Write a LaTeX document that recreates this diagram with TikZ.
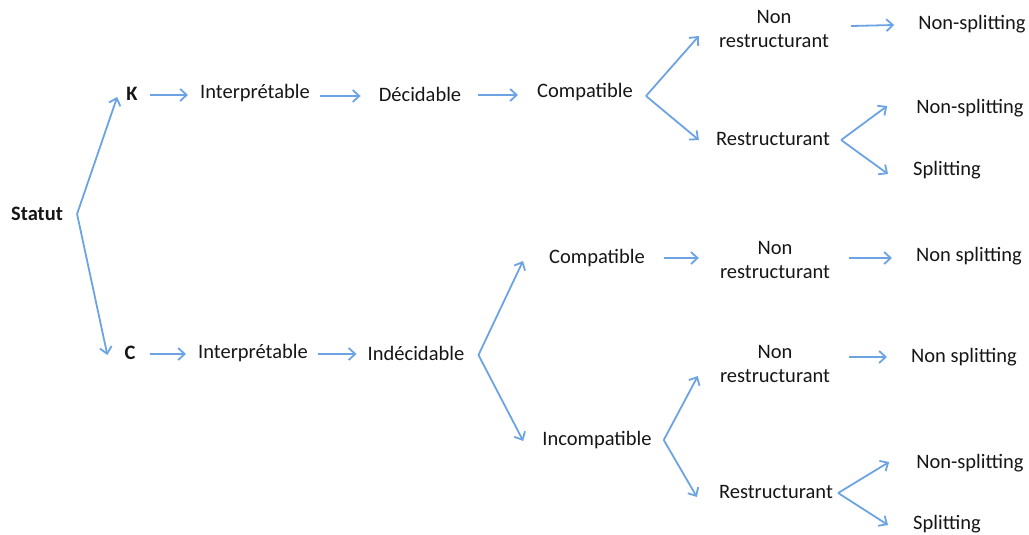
\documentclass[tikz,border=0pt]{standalone}
\usepackage{fontspec}
\setmainfont{Carlito}
\usetikzlibrary{arrows.meta,positioning}
\definecolor{TreeArrow}{HTML}{6CA3E3}
\definecolor{TreeText}{HTML}{161616}

\begin{document}
\begin{tikzpicture}[x=1pt,y=-1pt,
    lbl/.style={text=TreeText, inner sep=0pt, align=center,
      font=\fontsize{20.5}{24}\selectfont},
    head/.style={lbl, font=\fontsize{20.5}{24}\selectfont\bfseries},
    flow/.style={TreeArrow, line width=1.8pt,
      -{Straight Barb[length=6.5pt,width=12pt,line width=1.8pt]}}]
    \useasboundingbox (0,0) rectangle (1029,535);
    % upper branch
    \node[head] (statut) at (37,214) {Statut};
    \node[head] (k) at (132,94) {K};
    \node[lbl] (intK) at (255,93) {Interprétable};
    \node[lbl] (dec) at (420,94) {Décidable};
    \node[lbl] (compK) at (585,92) {Compatible};
    \node[lbl] (nrK) at (774,29) {Non\\restructurant};
    \node[lbl] (nsK) at (972,24) {Non-splitting};
    \node[lbl] (rK) at (773,139) {Restructurant};
    \node[lbl] (nsrK) at (970,108) {Non-splitting};
    \node[lbl] (spK) at (947,170) {Splitting};
    % lower branch
    \node[head] (c) at (130,353) {C};
    \node[lbl] (intC) at (253,353) {Interprétable};
    \node[lbl] (indec) at (416,353) {Indécidable};
    \node[lbl] (compC) at (597,258) {Compatible};
    \node[lbl] (nrC) at (775,260) {Non\\restructurant};
    \node[lbl] (nsC) at (969,256) {Non splitting};
    \node[lbl] (incomp) at (597,440) {Incompatible};
    \node[lbl] (nrI) at (775,364) {Non\\restructurant};
    \node[lbl] (nsI) at (964,357) {Non splitting};
    \node[lbl] (rI) at (776,492) {Restructurant};
    \node[lbl] (nsrI) at (970,463) {Non-splitting};
    \node[lbl] (spI) at (947,524) {Splitting};
    % fork points
    \coordinate (fStatut) at ([xshift=14pt]statut.east);
    \coordinate (fCompK) at ([xshift=13pt]compK.east);
    \coordinate (fRK) at ([xshift=11pt]rK.east);
    \coordinate (fIndec) at ([xshift=14pt]indec.east);
    \coordinate (fIncomp) at ([xshift=12pt]incomp.east);
    \coordinate (fRI) at ([xshift=5pt]rI.east);
    % arrows
    \draw[flow] (fStatut) -- ([xshift=-9pt,yshift=-3pt]k.west);
    \draw[flow] (fStatut) -- ([xshift=-17pt,yshift=-2pt]c.west);
    \draw[flow] ([xshift=12pt,yshift=-1pt]k.east) -- ([xshift=-12pt,yshift=-2pt]intK.west);
    \draw[flow] ([xshift=10pt,yshift=-3pt]intK.east) -- ([xshift=-18pt,yshift=-2pt]dec.west);
    \draw[flow] ([xshift=17pt,yshift=-1pt]dec.east) -- ([xshift=-19pt,yshift=-3pt]compK.west);
    \draw[flow] ([yshift=-4pt]fCompK) -- ([xshift=-20pt,yshift=-7pt]nrK.west);
    \draw[flow] ([yshift=-4pt]fCompK) -- ([xshift=-17pt,yshift=-1pt]rK.west);
    \draw[flow] ([xshift=22pt,yshift=3pt]nrK.east) -- ([xshift=-24pt,yshift=-1pt]nsK.west);
    \draw[flow] ([yshift=-1pt]fRK) -- ([xshift=-29pt,yshift=2pt]nsrK.west);
    \draw[flow] ([yshift=-1pt]fRK) -- ([xshift=-25pt,yshift=-4pt]spK.west);
    \draw[flow] ([xshift=14pt,yshift=-1pt]c.east) -- ([xshift=-12pt,yshift=-1pt]intC.west);
    \draw[flow] ([xshift=10pt,yshift=-1pt]intC.east) -- ([xshift=-11pt,yshift=-1pt]indec.west);
    \draw[flow] ([yshift=-2pt]fIndec) -- ([xshift=-26pt,yshift=-3pt]compC.west);
    \draw[flow] ([yshift=-2pt]fIndec) -- ([xshift=-19pt,yshift=-1pt]incomp.west);
    \draw[flow] ([xshift=19pt]compC.east) -- ([xshift=-21pt,yshift=2pt]nrC.west);
    \draw[flow] ([xshift=19pt,yshift=2pt]nrC.east) -- ([xshift=-24pt,yshift=-2pt]nsC.west);
    \draw[flow] (fIncomp) -- ([xshift=-22pt,yshift=-12pt]nrI.west);
    \draw[flow] (fIncomp) -- ([xshift=-22pt,yshift=-5pt]rI.west);
    \draw[flow] ([xshift=19pt,yshift=7pt]nrI.east) -- ([xshift=-24pt]nsI.west);
    \draw[flow] ([yshift=-1pt]fRI) -- ([xshift=-27pt,yshift=1pt]nsrI.west);
    \draw[flow] ([yshift=-1pt]fRI) -- ([xshift=-25pt,yshift=-1pt]spI.west);
  \end{tikzpicture}
\end{document}
